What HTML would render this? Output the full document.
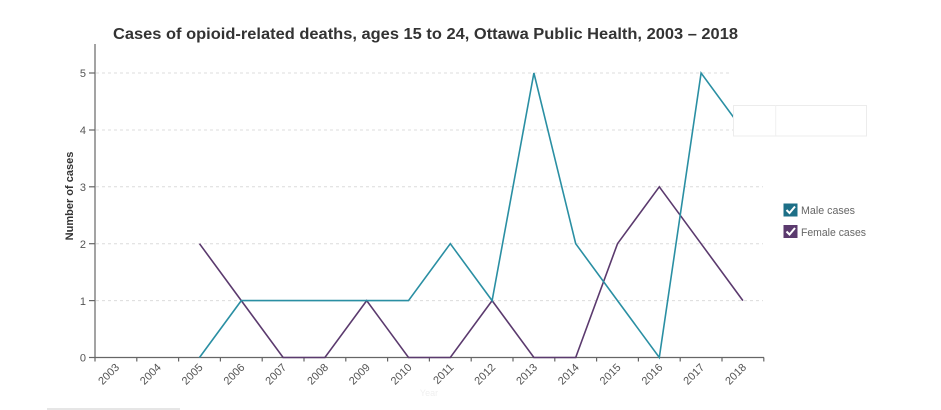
<!DOCTYPE html>
<html><head><meta charset="utf-8"><style>
html,body{margin:0;padding:0;background:#fff;}
svg{display:block;}
text{font-family:"Liberation Sans",sans-serif;}
</style></head><body>
<svg width="941" height="410" viewBox="0 0 941 410" xmlns="http://www.w3.org/2000/svg">
<rect width="941" height="410" fill="#fff"/>
<text x="425.5" y="39" text-anchor="middle" font-size="16" font-weight="bold" fill="#333" textLength="625" lengthAdjust="spacingAndGlyphs">Cases of opioid-related deaths, ages 15 to 24, Ottawa Public Health, 2003 – 2018</text>
<!-- gridlines -->
<g stroke="#dcdcdc" stroke-width="1" stroke-dasharray="3,3">
<line x1="96" y1="73" x2="732" y2="73"/>
<line x1="96" y1="130" x2="733" y2="130"/>
<line x1="96" y1="186.8" x2="763" y2="186.8"/>
<line x1="96" y1="243.7" x2="763" y2="243.7"/>
<line x1="96" y1="300.6" x2="763" y2="300.6"/>
</g>
<!-- axes -->
<g stroke="#666" stroke-width="1.2" fill="none">
<line x1="95" y1="44" x2="95" y2="358"/>
<line x1="95" y1="357.5" x2="764" y2="357.5"/>
<line x1="89" y1="73" x2="95" y2="73"/>
<line x1="89" y1="130" x2="95" y2="130"/>
<line x1="89" y1="186.8" x2="95" y2="186.8"/>
<line x1="89" y1="243.7" x2="95" y2="243.7"/>
<line x1="89" y1="300.6" x2="95" y2="300.6"/>
<line x1="89" y1="357.5" x2="95" y2="357.5"/>
<path d="M95 357.5v4M136.8 357.5v4M178.6 357.5v4M220.4 357.5v4M262.2 357.5v4M304 357.5v4M345.8 357.5v4M387.6 357.5v4M429.4 357.5v4M471.2 357.5v4M513 357.5v4M554.8 357.5v4M596.6 357.5v4M638.4 357.5v4M680.2 357.5v4M722 357.5v4M763.8 357.5v4"/>
</g>
<g font-size="11" fill="#555" text-anchor="end">
<text x="86" y="77">5</text>
<text x="86" y="134">4</text>
<text x="86" y="191">3</text>
<text x="86" y="248">2</text>
<text x="86" y="305">1</text>
<text x="86" y="361.5">0</text>
</g>
<text transform="translate(73,196) rotate(-90)" text-anchor="middle" font-size="11" font-weight="bold" fill="#333">Number of cases</text>
<g font-size="11" fill="#555" text-anchor="end">
<text transform="translate(119.9,368) rotate(-45)">2003</text>
<text transform="translate(161.7,368) rotate(-45)">2004</text>
<text transform="translate(203.5,368) rotate(-45)">2005</text>
<text transform="translate(245.3,368) rotate(-45)">2006</text>
<text transform="translate(287.1,368) rotate(-45)">2007</text>
<text transform="translate(328.9,368) rotate(-45)">2008</text>
<text transform="translate(370.7,368) rotate(-45)">2009</text>
<text transform="translate(412.5,368) rotate(-45)">2010</text>
<text transform="translate(454.3,368) rotate(-45)">2011</text>
<text transform="translate(496.1,368) rotate(-45)">2012</text>
<text transform="translate(537.9,368) rotate(-45)">2013</text>
<text transform="translate(579.7,368) rotate(-45)">2014</text>
<text transform="translate(621.5,368) rotate(-45)">2015</text>
<text transform="translate(663.3,368) rotate(-45)">2016</text>
<text transform="translate(705.1,368) rotate(-45)">2017</text>
<text transform="translate(746.9,368) rotate(-45)">2018</text>
</g>
<!-- series -->
<polyline fill="none" stroke="#5b3a6e" stroke-width="1.6" stroke-linejoin="miter" points="199.5,243.7 241.3,300.6 283.1,357.5 324.9,357.5 366.7,300.6 408.5,357.5 450.3,357.5 492.1,300.6 533.9,357.5 575.7,357.5 617.5,243.7 659.3,186.8 701.1,243.7 742.9,300.6"/>
<polyline fill="none" stroke="#2a8fa3" stroke-width="1.6" stroke-linejoin="miter" points="199.5,357.5 241.3,300.6 283.1,300.6 324.9,300.6 366.7,300.6 408.5,300.6 450.3,243.7 492.1,300.6 533.9,73 575.7,243.7 617.5,300.6 659.3,357.5 701.1,73 742.9,130"/>
<!-- white overlay box -->
<rect x="733.5" y="105.5" width="133" height="30.5" fill="#fff" stroke="#ececec" stroke-width="1"/>
<line x1="775.7" y1="105.5" x2="775.7" y2="136" stroke="#f0f0f0" stroke-width="1"/>
<!-- legend -->
<rect x="783.5" y="203.5" width="14" height="13" fill="#1d6f87"/>
<polyline points="786.5,210 789.5,213 795,206.5" fill="none" stroke="#fff" stroke-width="2"/>
<text x="801" y="214" font-size="11" fill="#666" textLength="54" lengthAdjust="spacingAndGlyphs">Male cases</text>
<rect x="783.5" y="225" width="14" height="13" fill="#5b3a6e"/>
<polyline points="786.5,231.5 789.5,234.5 795,228" fill="none" stroke="#fff" stroke-width="2"/>
<text x="801" y="236" font-size="11" fill="#666" textLength="65" lengthAdjust="spacingAndGlyphs">Female cases</text>
<!-- faint bits -->
<text x="429" y="396" text-anchor="middle" font-size="9" fill="#f0f0f0">Year</text>
<line x1="47" y1="409" x2="180" y2="409" stroke="#e6e6e6" stroke-width="2"/>
</svg>
</body></html>
